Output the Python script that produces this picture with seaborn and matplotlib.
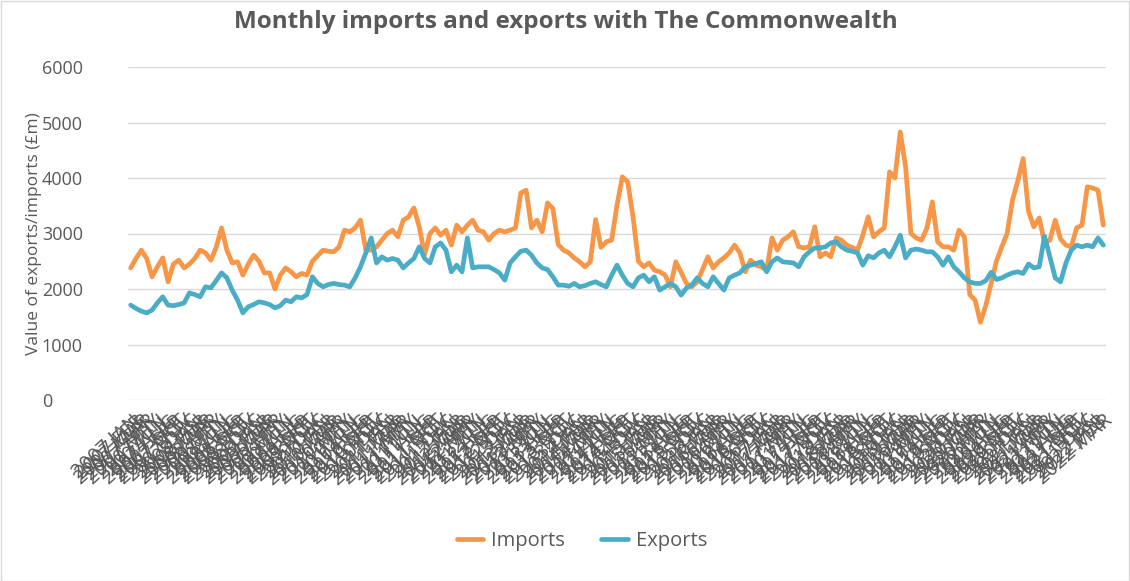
import numpy as np
import pandas as pd
import matplotlib
matplotlib.use("Agg")
import matplotlib.pyplot as plt
import seaborn as sns
from matplotlib.patches import Rectangle
from matplotlib.lines import Line2D

# ---------------- data ----------------
months = ["JAN", "FEB", "MAR", "APR", "MAY", "JUN", "JUL", "AUG", "SEP", "OCT", "NOV", "DEC"]
period_labels = [f"{y} {m}" for y in range(2007, 2023) for m in months][:183]

imports = [
    2380, 2550, 2700, 2550, 2220, 2400, 2560, 2130, 2450, 2520, 2380, 2450,
    2550, 2700, 2650, 2520, 2750, 3100, 2700, 2470, 2490, 2250, 2450, 2610,
    2500, 2290, 2290, 2000, 2250, 2380, 2310, 2220, 2280, 2250, 2500, 2600,
    2700, 2680, 2670, 2760, 3060, 3030, 3100, 3240, 2700, 2700, 2760, 2880,
    3000, 3060, 2940, 3240, 3300, 3460, 3120, 2620, 3000, 3100, 2970, 3060,
    2790, 3150, 3030, 3150, 3240, 3060, 3030, 2880, 3000, 3060, 3030, 3060,
    3100, 3730, 3780, 3100, 3240, 3030, 3550, 3450, 2800, 2700, 2650, 2560,
    2490, 2400, 2490, 3250, 2750, 2850, 2880, 3510, 4020, 3930, 3300, 2500,
    2400, 2470, 2340, 2310, 2250, 2040, 2490, 2300, 2100, 2040, 2130, 2350,
    2580, 2380, 2490, 2560, 2650, 2790, 2650, 2310, 2520, 2430, 2400, 2340,
    2920, 2700, 2880, 2940, 3030, 2760, 2740, 2760, 3120, 2580, 2650, 2580,
    2920, 2880, 2790, 2750, 2700, 2970, 3300, 2940, 3030, 3100, 4110, 4000,
    4830, 4200, 3000, 2920, 2880, 3100, 3570, 2850, 2760, 2760, 2700, 3060,
    2940, 1900, 1800, 1400, 1700, 2100, 2500, 2760, 3000, 3600, 3950, 4350,
    3400, 3120, 3280, 2830, 2880, 3240, 2900, 2790, 2760, 3100, 3150, 3840,
    3820, 3780, 3150,
]

exports = [
    1710, 1650, 1600, 1570, 1620, 1750, 1860, 1710, 1700, 1720, 1750, 1930,
    1900, 1860, 2040, 2020, 2150, 2290, 2200, 1980, 1800, 1570, 1680, 1720,
    1770, 1750, 1720, 1660, 1700, 1800, 1770, 1860, 1840, 1900, 2220, 2100,
    2040, 2080, 2100, 2080, 2070, 2040, 2200, 2400, 2650, 2920, 2470, 2580,
    2520, 2550, 2520, 2380, 2470, 2550, 2760, 2550, 2470, 2760, 2830, 2700,
    2310, 2430, 2310, 2920, 2380, 2400, 2400, 2400, 2350, 2290, 2160, 2470,
    2580, 2680, 2700, 2610, 2470, 2380, 2350, 2220, 2070, 2070, 2050, 2100,
    2040, 2060, 2100, 2130, 2080, 2040, 2250, 2430, 2250, 2100, 2040, 2200,
    2250, 2130, 2220, 1980, 2040, 2100, 2040, 1890, 2020, 2070, 2200, 2100,
    2040, 2220, 2100, 1980, 2200, 2250, 2290, 2400, 2430, 2460, 2490, 2310,
    2490, 2560, 2490, 2480, 2470, 2400, 2580, 2670, 2740, 2740, 2760, 2830,
    2850, 2760, 2700, 2680, 2650, 2430, 2600, 2560, 2650, 2700, 2580, 2760,
    2970, 2560, 2700, 2720, 2700, 2670, 2670, 2580, 2430, 2580, 2400, 2310,
    2200, 2130, 2100, 2100, 2150, 2300, 2170, 2200, 2250, 2290, 2310, 2280,
    2450, 2380, 2400, 2950, 2580, 2200, 2130, 2470, 2700, 2790, 2760, 2790,
    2760, 2920, 2790,
]

series_names = ["Imports", "Exports"]
series_colors = ["#F79646", "#4BACC6"]
y_ticks = [0, 1000, 2000, 3000, 4000, 5000, 6000]

title_text = "Monthly imports and exports with The Commonwealth"
y_label = "Value of exports/imports (£m)"

# ---------------- build frame ----------------
n = len(period_labels)
df = pd.DataFrame({
    "idx": list(range(n)) * 2,
    "value": imports + exports,
    "series": ["Imports"] * n + ["Exports"] * n,
})

sns.set_theme(style="white")
plt.rcParams["font.family"] = ["Open Sans", "DejaVu Sans"]

W, H, DPI = 1130, 581, 100
fig = plt.figure(figsize=(W / DPI, H / DPI), dpi=DPI)
ax_left, ax_right, ax_top, ax_bot = 128, 1106, 67, 400
ax = fig.add_axes([ax_left / W, 1 - ax_bot / H, (ax_right - ax_left) / W, (ax_bot - ax_top) / H])

sns.lineplot(data=df, x="idx", y="value", hue="series", hue_order=series_names,
             palette=series_colors, linewidth=3.4, ax=ax, legend=False)

ax.set_xlim(-0.5, n - 0.5)
ax.set_ylim(0, 6000)
ax.set_yticks(y_ticks)
ax.set_yticklabels([str(v) for v in y_ticks], color="#595959", fontsize=13,
                   ha="left")
ax.tick_params(axis="y", length=0, pad=(ax_left - 66))
ax.yaxis.grid(True, color="#d9d9d9", linewidth=1.0)
ax.set_axisbelow(True)
for s in ax.spines.values():
    s.set_visible(False)

ax.set_xticks(range(n))
ax.set_xticklabels(period_labels, rotation=42, ha="right", rotation_mode="anchor",
                   fontsize=14.5, color="#595959")
ax.tick_params(axis="x", length=0, pad=8)

ax.set_xlabel("")
ax.set_ylabel(y_label, color="#595959", fontsize=12.5)
ax.yaxis.set_label_coords(-(ax_left - 42) / (ax_right - ax_left), 0.5)

fig.text(566 / W, 1 - 22 / H, title_text, ha="center", va="center",
         fontsize=17.5, fontweight="bold", color="#595959")

# legend
handles = [Line2D([0], [0], color=c, linewidth=3.4) for c in series_colors]
fig.legend(handles, series_names, loc="center", bbox_to_anchor=(582 / W, 1 - 541 / H),
           ncol=2, frameon=False, fontsize=14.5, labelcolor="#595959",
           handlelength=1.3, columnspacing=1.8, handletextpad=0.4)

fig.patches.append(Rectangle((0.5 / W, 0.5 / H), 1 - 1.5 / W, 1 - 1.5 / H,
                             transform=fig.transFigure, fill=False,
                             edgecolor="#d9d9d9", linewidth=1.0))

fig.savefig("out.png", dpi=DPI, facecolor="white")
